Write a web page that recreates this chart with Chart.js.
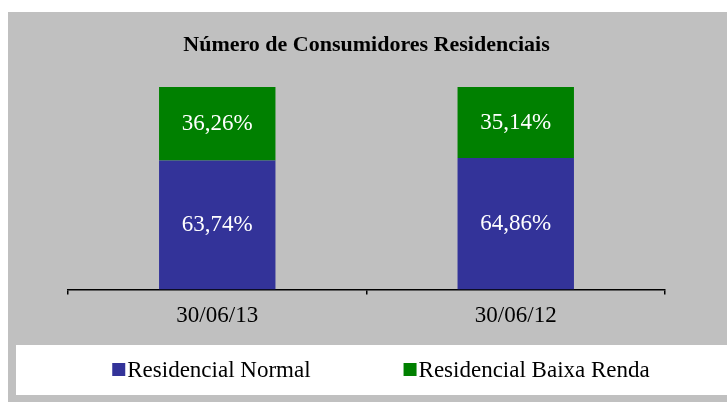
<!DOCTYPE html>
<html lang="pt">
<head>
  <meta charset="UTF-8" />
  <title>Número de Consumidores Residenciais</title>
  <script src="https://cdn.jsdelivr.net/npm/chart.js"></script>
  <style>
    html, body { margin: 0; padding: 0; background: #fff; }
    #wrap { width: 727px; height: 402px; }
  </style>
</head>
<body>
  <div id="wrap"><canvas id="consChart" width="727" height="402"></canvas></div>
  <script>
    const categories = ["30/06/13", "30/06/12"];
    const seriesNames = ["Residencial Normal", "Residencial Baixa Renda"];
    const normal = [63.74, 64.86];
    const baixaRenda = [36.26, 35.14];
    const colors = ["#333399", "#008000"];

    const serif = "'Liberation Serif', 'Times New Roman', serif";

    // gray panel + white legend strip behind everything
    const panelBg = {
      id: "panelBg",
      beforeDraw(chart) {
        const ctx = chart.ctx;
        ctx.save();
        ctx.fillStyle = "#c0c0c0";
        ctx.fillRect(8, 12, 719, 390);
        ctx.fillStyle = "#ffffff";
        ctx.fillRect(16, 345, 711, 50);
        ctx.restore();
      }
    };

    // percentage labels inside each bar segment
    const barLabels = {
      id: "barLabels",
      afterDatasetsDraw(chart) {
        const ctx = chart.ctx;
        ctx.save();
        ctx.fillStyle = "#ffffff";
        ctx.font = "23px " + serif;
        ctx.textAlign = "center";
        ctx.textBaseline = "middle";
        chart.data.datasets.forEach((ds, i) => {
          chart.getDatasetMeta(i).data.forEach((bar, j) => {
            const txt = ds.data[j].toFixed(2).replace(".", ",") + "%";
            ctx.fillText(txt, bar.x, (bar.y + bar.base) / 2);
          });
        });
        ctx.restore();
      }
    };

    // legend in the white strip
    const stripLegend = {
      id: "stripLegend",
      afterDraw(chart) {
        const ctx = chart.ctx;
        ctx.save();
        ctx.font = "23px " + serif;
        ctx.textBaseline = "alphabetic";
        const box = 13, gap = 2, spacing = 93, baseY = 377;
        const widths = chart.data.datasets.map(ds => box + gap + ctx.measureText(ds.label).width);
        const total = widths.reduce((a, b) => a + b, 0) + spacing * (widths.length - 1);
        let x = 381 - total / 2;
        chart.data.datasets.forEach((ds, i) => {
          ctx.fillStyle = ds.backgroundColor;
          ctx.fillRect(x, baseY - box - 1, box, box);
          ctx.fillStyle = "#000";
          ctx.fillText(ds.label, x + box + gap, baseY);
          x += widths[i] + spacing;
        });
        ctx.restore();
      }
    };

    new Chart(document.getElementById("consChart"), {
      type: "bar",
      data: {
        labels: categories,
        datasets: [
          { label: seriesNames[0], data: normal, backgroundColor: colors[0] },
          { label: seriesNames[1], data: baixaRenda, backgroundColor: colors[1] }
        ]
      },
      options: {
        responsive: false,
        animation: false,
        layout: { padding: { left: 68, right: 62, top: 22, bottom: 64 } },
        datasets: { bar: { barPercentage: 1, categoryPercentage: 0.39 } },
        plugins: {
          legend: { display: false },
          tooltip: { enabled: false },
          title: {
            display: true,
            text: "Número de Consumidores Residenciais",
            color: "#000",
            font: { family: serif, size: 22, weight: "bold" },
            padding: { top: 10, bottom: 28.6 }
          }
        },
        scales: {
          x: {
            stacked: true,
            grid: { drawOnChartArea: false, drawTicks: true, tickLength: 5, color: "#000", lineWidth: 1.5 },
            border: { display: true, color: "#000", width: 1.5 },
            ticks: { color: "#000", font: { family: serif, size: 23 }, padding: 8 }
          },
          y: {
            stacked: true,
            display: false,
            min: 0,
            max: 100
          }
        }
      },
      plugins: [panelBg, barLabels, stripLegend]
    });
  </script>
</body>
</html>
